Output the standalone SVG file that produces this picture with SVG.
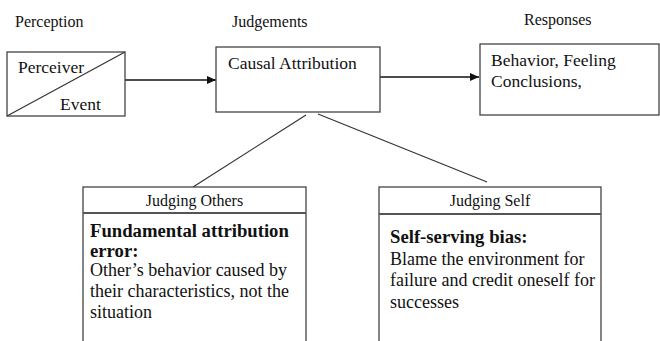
<svg xmlns="http://www.w3.org/2000/svg" width="660" height="341" viewBox="0 0 660 341">
<style>
text{font-family:"Liberation Serif","Times New Roman",serif;fill:#111}
.lbl{font-size:16px}
.t{font-size:17.5px}
.t2{font-size:18px}
.b{font-size:18.7px;font-weight:bold}
.box{fill:#fff;stroke:#444;stroke-width:1.3}
.sep{stroke:#555;stroke-width:1.8}
.ln{stroke:#333;stroke-width:1.2;fill:none}
.arr{stroke:#111;stroke-width:1.6;fill:none}
</style>
<defs>
<marker id="ah" markerWidth="10" markerHeight="10" refX="9" refY="5" orient="auto" markerUnits="userSpaceOnUse">
<path d="M0,1 L9,5 L0,9 Z" fill="#111"/>
</marker>
</defs>
<rect width="660" height="341" fill="#fff"/>
<g id="headings">
<text class="lbl" x="15" y="27">Perception</text>
<text class="lbl" x="232" y="27">Judgements</text>
<text class="lbl" x="524" y="25">Responses</text>
</g>
<g id="connectors">
<line class="arr" x1="125" y1="80" x2="216" y2="80" marker-end="url(#ah)"/>
<line class="arr" x1="380" y1="77" x2="479" y2="77" marker-end="url(#ah)"/>
<line class="ln" x1="306" y1="115" x2="193" y2="187"/>
<line class="ln" x1="318" y1="114" x2="487" y2="182"/>
</g>
<g id="perceiver">
<rect class="box" x="7" y="52" width="118" height="64"/>
<line class="ln" x1="7" y1="116" x2="125" y2="52"/>
<text class="t" x="18" y="73">Perceiver</text>
<text class="t" x="60" y="110">Event</text>
</g>
<g id="causal">
<rect class="box" x="216" y="47" width="164" height="65"/>
<text class="t" x="228" y="69">Causal Attribution</text>
</g>
<g id="responses">
<rect class="box" x="480" y="44" width="179" height="71"/>
<text class="t" x="491" y="66">Behavior, Feeling</text>
<text class="t" x="491" y="87">Conclusions,</text>
</g>
<g id="others">
<rect class="box" x="83" y="187" width="223" height="170"/>
<line class="sep" x1="83" y1="213" x2="306" y2="213"/>
<text class="lbl" x="194.5" y="206" text-anchor="middle">Judging Others</text>
<text class="b" x="90" y="237">Fundamental attribution</text>
<text class="b" x="90" y="257">error:</text>
<text class="t2" x="90" y="276">Other’s behavior caused by</text>
<text class="t2" x="90" y="297">their characteristics, not the</text>
<text class="t2" x="90" y="318">situation</text>
</g>
<g id="self">
<rect class="box" x="379" y="187" width="222" height="170"/>
<line class="sep" x1="379" y1="214" x2="601" y2="214"/>
<text class="lbl" x="490" y="206" text-anchor="middle">Judging Self</text>
<text class="b" x="390" y="243">Self-serving bias:</text>
<text class="t2" x="390" y="265">Blame the environment for</text>
<text class="t2" x="390" y="286">failure and credit oneself for</text>
<text class="t2" x="390" y="308">successes</text>
</g>
</svg>
